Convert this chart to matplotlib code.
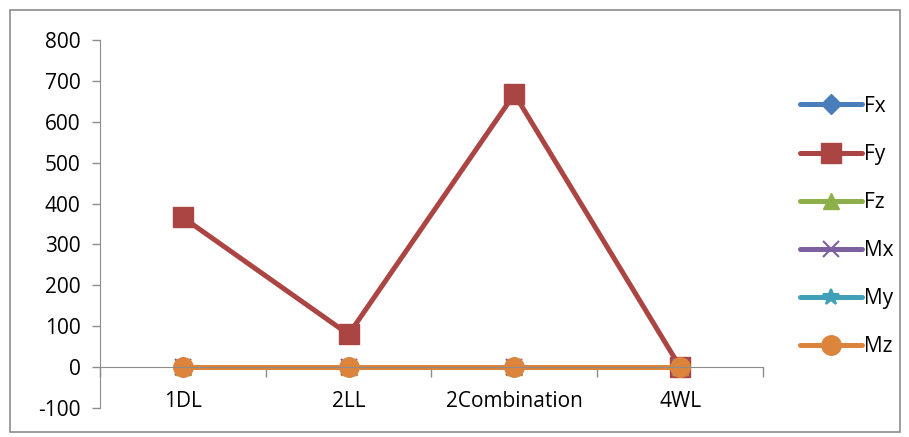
import matplotlib
matplotlib.use("Agg")
import matplotlib.pyplot as plt
from matplotlib.patches import Rectangle

categories = ["1DL", "2LL", "2Combination", "4WL"]
series_names = ["Fx", "Fy", "Fz", "Mx", "My", "Mz"]
Fx = [0, 0, 0, 0]
Fy = [366, 80, 668, 0]
Fz = [0, 0, 0, 0]
Mx = [0, 0, 0, 0]
My = [0, 0, 0, 0]
Mz = [0, 0, 0, 0]
yticks = [-100, 0, 100, 200, 300, 400, 500, 600, 700, 800]

plt.rcParams['font.family'] = ['Open Sans', 'DejaVu Sans']
FS = 15

fig = plt.figure(figsize=(9.09, 4.37), dpi=100)
fig.patches.append(Rectangle((10/909, 1-432/437), 890/909, 422/437, transform=fig.transFigure,
                             fill=False, edgecolor='#8c8c8c', linewidth=1.2))
ax = fig.add_axes([100/909, 1-408/437, 663/909, 368/437])

colors = ['#4A7EBB', '#AB4543', '#8EB04B', '#7D60A0', '#3FA0B8', '#DC843C']
markers = ['D', 's', '^', 'x', '*', 'o']
msizes = [10, 14, 12, 12, 12, 14]
data = [Fx, Fy, Fz, Mx, My, Mz]
x = list(range(len(categories)))
for name, vals, c, m, ms in zip(series_names, data, colors, markers, msizes):
    kw = dict(markerfacecolor=c, markeredgecolor=c)
    if m in ('x', '*'):
        kw['markeredgewidth'] = 1.5
    ax.plot(x, vals, color=c, linewidth=3.6, marker=m, markersize=ms, label=name,
            solid_capstyle='round', clip_on=False, **kw)

ax.set_xlim(-0.5, len(categories) - 0.5)
ax.set_ylim(-100, 800)
ax.set_yticks(yticks)
ax.set_yticklabels([str(v) for v in yticks])
ax.tick_params(axis='y', length=6, width=1, color='#8c8c8c', pad=8, labelsize=FS)

ax.set_xticks([i + 0.5 for i in range(-1, len(categories))])
ax.set_xticklabels([])
ax.set_xticks(x, minor=True)
ax.set_xticklabels(categories, minor=True)
ax.tick_params(axis='x', which='major', length=7, width=1, color='#8c8c8c', direction='out')
ax.tick_params(axis='x', which='minor', length=0, pad=17, labelsize=FS)

for s in ['top', 'right']:
    ax.spines[s].set_visible(False)
ax.spines['bottom'].set_position(('data', 0))
ax.spines['bottom'].set_color('#8c8c8c')
ax.spines['left'].set_color('#8c8c8c')
ax.set_zorder(1)

leg = fig.legend(loc='upper left', bbox_to_anchor=(781/909, 1-77/437), frameon=False,
                 fontsize=FS, handlelength=3.0, labelspacing=1.3, handletextpad=0.1)

fig.savefig("out.png", dpi=100)
